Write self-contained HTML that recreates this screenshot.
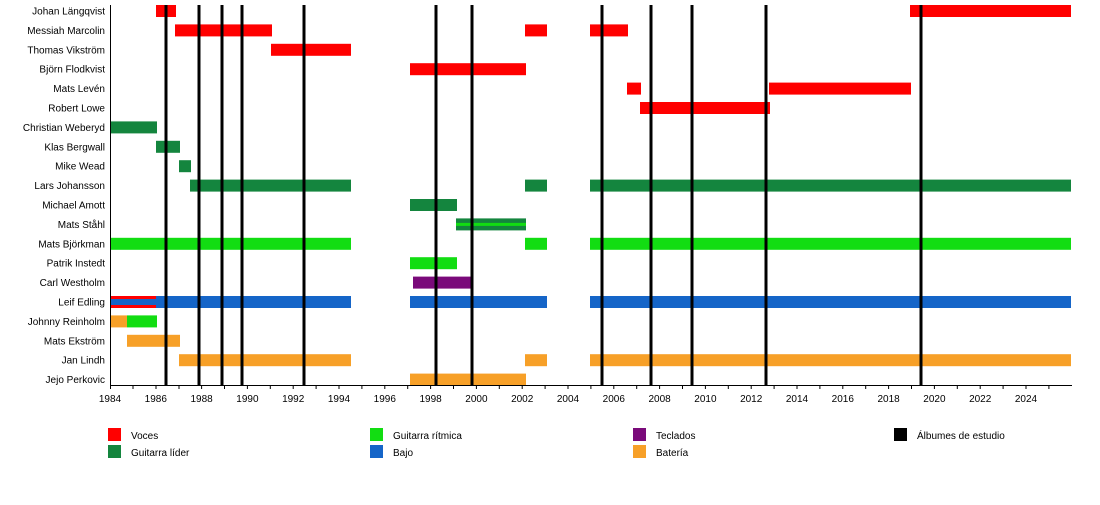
<!DOCTYPE html>
<html><head><meta charset="utf-8"><style>body{margin:0;background:#fff}svg{display:block}text{font-family:"Liberation Sans",Arial,sans-serif;font-size:10px;fill:#000}</style></head><body>
<svg width="1100" height="505" xmlns="http://www.w3.org/2000/svg">
<g text-anchor="end">
<text x="105" y="14.5">Johan Längqvist</text>
<text x="105" y="33.9">Messiah Marcolin</text>
<text x="105" y="53.3">Thomas Vikström</text>
<text x="105" y="72.7">Björn Flodkvist</text>
<text x="105" y="92.1">Mats Levén</text>
<text x="105" y="111.5">Robert Lowe</text>
<text x="105" y="130.9">Christian Weberyd</text>
<text x="105" y="150.3">Klas Bergwall</text>
<text x="105" y="169.7">Mike Wead</text>
<text x="105" y="189.1">Lars Johansson</text>
<text x="105" y="208.5">Michael Amott</text>
<text x="105" y="227.9">Mats Ståhl</text>
<text x="105" y="247.3">Mats Björkman</text>
<text x="105" y="266.7">Patrik Instedt</text>
<text x="105" y="286.1">Carl Westholm</text>
<text x="105" y="305.5">Leif Edling</text>
<text x="105" y="324.9">Johnny Reinholm</text>
<text x="105" y="344.3">Mats Ekström</text>
<text x="105" y="363.7">Jan Lindh</text>
<text x="105" y="383.1">Jejo Perkovic</text>
</g>
<g fill="#ff0000">
<rect x="156" y="5" width="20" height="12"/><rect x="910" y="5" width="161" height="12"/>
<rect x="175" y="24.4" width="97" height="12"/><rect x="525" y="24.4" width="22" height="12"/><rect x="590" y="24.4" width="38" height="12"/>
<rect x="271" y="43.8" width="80" height="12"/>
<rect x="410" y="63.2" width="116" height="12"/>
<rect x="627" y="82.6" width="14" height="12"/><rect x="769" y="82.6" width="142" height="12"/>
<rect x="640" y="102" width="130" height="12"/>
</g>
<g fill="#14853e">
<rect x="110" y="121.4" width="47" height="12"/>
<rect x="156" y="140.8" width="24" height="12"/>
<rect x="179" y="160.2" width="12" height="12"/>
<rect x="190" y="179.6" width="161" height="12"/><rect x="525" y="179.6" width="22" height="12"/><rect x="590" y="179.6" width="481" height="12"/>
<rect x="410" y="199" width="47" height="12"/>
<rect x="456" y="218.4" width="70" height="12"/>
</g>
<g fill="#12dd12">
<rect x="456" y="222.9" width="70" height="3"/>
<rect x="110" y="237.8" width="241" height="12"/><rect x="525" y="237.8" width="22" height="12"/><rect x="590" y="237.8" width="481" height="12"/>
<rect x="410" y="257.2" width="47" height="12"/>
<rect x="127" y="315.4" width="30" height="12"/>
</g>
<rect x="413" y="276.6" width="59" height="12" fill="#7a0a7a"/>
<g fill="#1565c8">
<rect x="110" y="296" width="241" height="12"/><rect x="410" y="296" width="137" height="12"/><rect x="590" y="296" width="481" height="12"/>
</g>
<rect x="110" y="296" width="46" height="3" fill="#ff0000"/><rect x="110" y="305" width="46" height="3" fill="#ff0000"/>
<g fill="#f7a028">
<rect x="110" y="315.4" width="17" height="12"/>
<rect x="127" y="334.8" width="53" height="12"/>
<rect x="179" y="354.2" width="172" height="12"/><rect x="525" y="354.2" width="22" height="12"/><rect x="590" y="354.2" width="481" height="12"/>
<rect x="410" y="373.6" width="116" height="12"/>
</g>
<g fill="#000">
<rect x="164.5" y="5" width="3" height="380"/><rect x="197.5" y="5" width="3" height="380"/><rect x="220.5" y="5" width="3" height="380"/><rect x="240.5" y="5" width="3" height="380"/><rect x="302.5" y="5" width="3" height="380"/><rect x="434.5" y="5" width="3" height="380"/><rect x="470.5" y="5" width="3" height="380"/><rect x="600.5" y="5" width="3" height="380"/><rect x="649.5" y="5" width="3" height="380"/><rect x="690.5" y="5" width="3" height="380"/><rect x="764.5" y="5" width="3" height="380"/><rect x="919.5" y="5" width="3" height="380"/>
</g>
<line x1="110.5" y1="5" x2="110.5" y2="385" stroke="#000"/>
<line x1="110" y1="385.5" x2="1072" y2="385.5" stroke="#000"/>
<path stroke="#000" d="M110.5 385v4M133 385v4M156 385v4M179 385v4M201.6 385v4M224.5 385v4M247.4 385v4M270.3 385v4M293.2 385v4M316.1 385v4M339 385v4M361.9 385v4M384.8 385v4M407.7 385v4M430.6 385v4M453.5 385v4M476.4 385v4M499.3 385v4M522.2 385v4M545.1 385v4M568 385v4M590.9 385v4M613.8 385v4M636.7 385v4M659.6 385v4M682.5 385v4M705.4 385v4M728.3 385v4M751.2 385v4M774.1 385v4M797 385v4M819.9 385v4M842.8 385v4M865.7 385v4M888.6 385v4M911.5 385v4M934.4 385v4M957.3 385v4M980.2 385v4M1003.1 385v4M1026 385v4M1048.9 385v4"/>
<g text-anchor="middle">
<text x="110" y="402">1984</text><text x="155.8" y="402">1986</text><text x="201.6" y="402">1988</text><text x="247.4" y="402">1990</text><text x="293.2" y="402">1992</text><text x="339" y="402">1994</text><text x="384.8" y="402">1996</text><text x="430.6" y="402">1998</text><text x="476.4" y="402">2000</text><text x="522.2" y="402">2002</text><text x="568" y="402">2004</text><text x="613.8" y="402">2006</text><text x="659.6" y="402">2008</text><text x="705.4" y="402">2010</text><text x="751.2" y="402">2012</text><text x="797" y="402">2014</text><text x="842.8" y="402">2016</text><text x="888.6" y="402">2018</text><text x="934.4" y="402">2020</text><text x="980.2" y="402">2022</text><text x="1026" y="402">2024</text>
</g>
<rect x="108" y="428" width="13" height="13" fill="#ff0000"/><text x="131" y="439">Voces</text>
<rect x="108" y="445" width="13" height="13" fill="#14853e"/><text x="131" y="456">Guitarra líder</text>
<rect x="370" y="428" width="13" height="13" fill="#12dd12"/><text x="393" y="439">Guitarra rítmica</text>
<rect x="370" y="445" width="13" height="13" fill="#1565c8"/><text x="393" y="456">Bajo</text>
<rect x="633" y="428" width="13" height="13" fill="#7a0a7a"/><text x="656" y="439">Teclados</text>
<rect x="633" y="445" width="13" height="13" fill="#f7a028"/><text x="656" y="456">Batería</text>
<rect x="894" y="428" width="13" height="13" fill="#000"/><text x="917" y="439">Álbumes de estudio</text>
</svg></body></html>
